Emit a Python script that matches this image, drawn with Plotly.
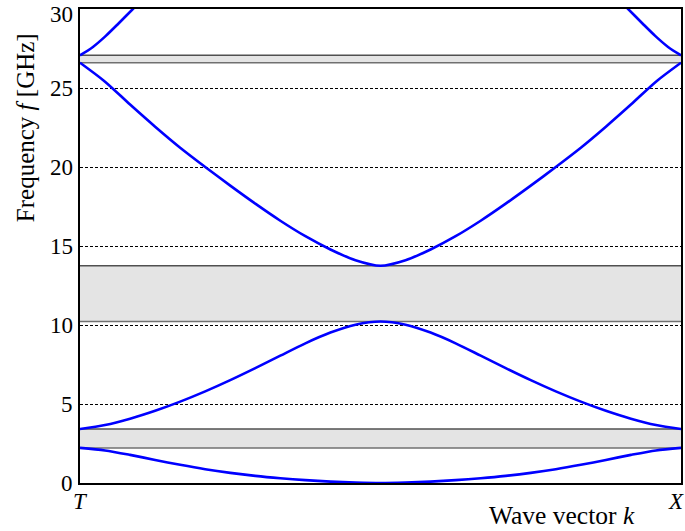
import plotly.graph_objects as go

# k as fraction of the path T -> X (uniform 1/24 steps)
k_main = [i / 24 for i in range(25)]
band1_half = [2.22, 2.06, 1.78, 1.46, 1.15, 0.87, 0.64, 0.45, 0.30, 0.18, 0.09, 0.03, 0.0]
band2_half = [3.42, 3.67, 4.07, 4.57, 5.15, 5.80, 6.51, 7.27, 8.06, 8.84, 9.52, 10.02, 10.22]
band3_half = [26.6, 25.4, 23.95, 22.55, 21.22, 20.0, 18.82, 17.68, 16.6, 15.62, 14.78, 14.1, 13.75]
band1 = band1_half + band1_half[-2::-1]
band2 = band2_half + band2_half[-2::-1]
band3 = band3_half + band3_half[-2::-1]

k_top = [0, 0.0215, 0.043, 0.0645, 0.0867, 0.125, 0.167,
         0.833, 0.875, 0.9133, 0.9355, 0.957, 0.9785, 1]
band4_left = [27.07, 27.6, 28.3, 29.1, 29.95, 31.4, 33.0]
band4_right = [33.0, 31.4, 29.95, 29.1, 28.3, 27.6, 27.07]

gaps = [(2.22, 3.42), (10.22, 13.75), (26.6, 27.07)]
y_ticks = [0, 5, 10, 15, 20, 25, 30]
y_tick_text = ["0", "5", "10", "15", "20", "25", "30"]

serif = "Liberation Serif, DejaVu Serif, serif"
blue = "#0000ff"
lw = 2.6

fig = go.Figure()
for band in (band1, band2, band3):
    fig.add_trace(go.Scatter(x=k_main, y=band, mode="lines",
                             line=dict(color=blue, width=lw, shape="spline", smoothing=0.8),
                             hoverinfo="skip"))
fig.add_trace(go.Scatter(x=k_top[:7], y=band4_left, mode="lines",
                         line=dict(color=blue, width=lw, shape="spline", smoothing=0.8)))
fig.add_trace(go.Scatter(x=k_top[7:], y=band4_right, mode="lines",
                         line=dict(color=blue, width=lw, shape="spline", smoothing=0.8)))

for lo, hi in gaps:
    fig.add_shape(type="rect", xref="x", yref="y", x0=0, x1=1, y0=lo, y1=hi,
                  fillcolor="#e4e4e4", line=dict(width=0), layer="between")
    fig.add_shape(type="line", xref="x", yref="y", x0=0, x1=1, y0=lo, y1=lo,
                  line=dict(color="#707070", width=1.5), layer="between")
    fig.add_shape(type="line", xref="x", yref="y", x0=0, x1=1, y0=hi, y1=hi,
                  line=dict(color="#505050", width=1.5), layer="between")

fig.update_layout(
    width=685, height=531,
    margin=dict(l=80, r=2, t=9, b=48),
    paper_bgcolor="white", plot_bgcolor="white",
    showlegend=False,
    font=dict(family=serif, size=22, color="black"),
    xaxis=dict(range=[0, 1], showgrid=False, zeroline=False, showticklabels=False,
               ticks="", showline=True, mirror=True, linecolor="black", linewidth=2),
    yaxis=dict(range=[0, 30], tickvals=y_ticks, showgrid=True, gridcolor="black",
               gridwidth=0.8, griddash="3px,2px", zeroline=False, ticks="",
               showticklabels=False,
               showline=True, mirror=True, linecolor="black", linewidth=2),
)

annotations = []
for v, t in zip(y_ticks, y_tick_text):
    a = dict(text=t, x=0, y=v, xref="paper", yref="y", xanchor="right", yanchor="middle",
             xshift=-5, showarrow=False, font=dict(family=serif, size=23))
    if v == 30:
        a.update(yanchor="top", yshift=9)
    annotations.append(a)
annotations += [
    dict(text="<i>T</i>", x=0, y=0, xref="x", yref="y", yshift=-18, showarrow=False,
         font=dict(family=serif, size=23)),
    dict(text="<i>X</i>", x=1, y=0, xref="x", yref="y", xshift=-5, yshift=-18,
         showarrow=False, font=dict(family=serif, size=23)),
    dict(text="Wave vector <i>k</i>", x=(564 - 80) / 603, y=-(515 - 483) / 474,
         xref="paper", yref="paper", xanchor="center", yanchor="middle",
         showarrow=False, font=dict(family=serif, size=25.5)),
    dict(text="Frequency <i>f</i> [GHz]", x=-(80 - 25) / 603, y=(483 - 128) / 474,
         xref="paper", yref="paper", xanchor="center", yanchor="middle",
         textangle=-90, showarrow=False, font=dict(family=serif, size=25)),
]
fig.update_layout(annotations=annotations)

fig.write_html("out.html")
